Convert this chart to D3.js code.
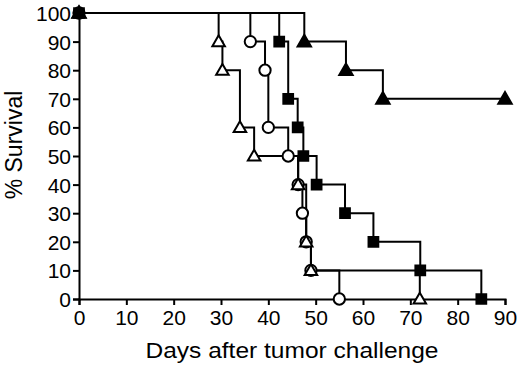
<!DOCTYPE html>
<html><head><meta charset="utf-8">
<script src="https://cdn.jsdelivr.net/npm/d3@7"></script>
<style>body{margin:0;background:#fff}svg{display:block}text{font-family:"Liberation Sans",Arial,sans-serif;fill:#000}</style>
</head><body><svg id="c" width="520" height="367"></svg>
<script>
// Kaplan-Meier style survival data (day, % survival)
const openTriDays = [0, 29.5, 30.3, 34, 37, 46.3, 48, 49, 72];
const openTriSurv = [100, 90, 80, 60, 50, 40, 20, 10, 0];
const circleDays = [0, 36.2, 39.3, 40, 44.2, 46.3, 47.2, 48, 49, 55];
const circleSurv = [100, 90, 80, 60, 50, 40, 30, 20, 10, 0];
const squareDays = [0, 42.3, 44.2, 46.2, 47.4, 50.2, 56.2, 62.2, 72.1, 85];
const squareSurv = [100, 90, 70, 60, 50, 40, 30, 20, 10, 0];
const filledTriDays = [0, 47.6, 56.4, 64.2, 90];
const filledTriSurv = [100, 90, 80, 70, 70];
const xTicks = [0, 10, 20, 30, 40, 50, 60, 70, 80, 90];
const yTicks = [0, 10, 20, 30, 40, 50, 60, 70, 80, 90, 100];

const svg = d3.select("#c");
const L = 79, R = 505, T = 13, B = 299;
const x = d3.scaleLinear().domain([0, 90]).range([L, R]);
const y = d3.scaleLinear().domain([0, 100]).range([B, T]);

// axes
const xAxis = d3.axisBottom(x).tickValues(xTicks).tickSizeOuter(0).tickSize(6).tickPadding(5);
const yAxis = d3.axisLeft(y).tickValues(yTicks).tickSizeOuter(0).tickSize(6).tickPadding(2);
const gx = svg.append("g").attr("transform", `translate(0,${B})`).call(xAxis);
const gy = svg.append("g").attr("transform", `translate(${L},0)`).call(yAxis);
[gx, gy].forEach(g => {
  g.select(".domain").attr("stroke", "#000").attr("stroke-width", 2);
  g.selectAll(".tick line").attr("stroke", "#000").attr("stroke-width", 2);
  g.selectAll(".tick text").style("font-size", "21px").attr("fill", "#000");
});
gy.selectAll(".tick text").attr("dy", "0.36em");
gx.selectAll(".tick text").attr("dy", "0.72em");

svg.append("text").attr("x", x(45)).attr("y", 358).attr("text-anchor", "middle")
  .style("font-size", "22px").attr("textLength", 293).attr("lengthAdjust", "spacingAndGlyphs")
  .text("Days after tumor challenge");
svg.append("text").attr("transform", "translate(22,145) rotate(-90)").attr("text-anchor", "middle")
  .style("font-size", "23px").text("% Survival");

const series = [
  {days: circleDays, surv: circleSurv, sym: d3.symbolCircle, size: 100, fill: "#fff"},
  {days: openTriDays, surv: openTriSurv, sym: d3.symbolTriangle, size: 68, fill: "#fff"},
  {days: squareDays, surv: squareSurv, sym: d3.symbolSquare, size: 95, fill: "#000"},
  {days: filledTriDays, surv: filledTriSurv, sym: d3.symbolTriangle, size: 78, fill: "#000"}
];
const line = d3.line().x(d => x(d[0])).y(d => y(d[1])).curve(d3.curveStepAfter);
series.forEach(s => {
  const pts = s.days.map((d, i) => [d, s.surv[i]]);
  svg.append("path").attr("d", line(pts)).attr("fill", "none").attr("stroke", "#000").attr("stroke-width", 2);
});
series.forEach(s => {
  const pts = s.days.map((d, i) => [d, s.surv[i]]);
  svg.append("g").selectAll("path").data(pts).join("path")
    .attr("transform", d => `translate(${x(d[0])},${y(d[1]) + (s.sym === d3.symbolTriangle ? 1 : 0)})`)
    .attr("d", d3.symbol().type(s.sym).size(s.size))
    .attr("fill", s.fill).attr("stroke", "#000").attr("stroke-width", 2);
});
</script></body></html>
